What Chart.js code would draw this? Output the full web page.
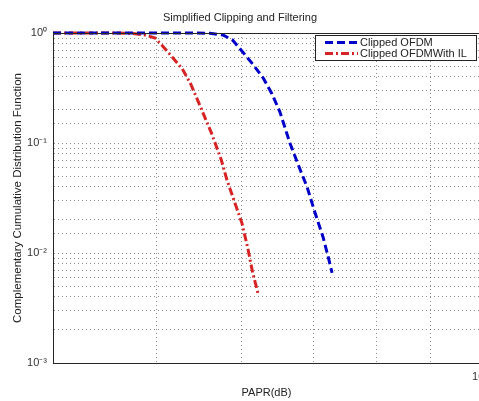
<!DOCTYPE html>
<html><head><meta charset="utf-8">
<script src="https://cdn.jsdelivr.net/npm/chart.js@4/dist/chart.umd.min.js"></script>
<style>
html,body{margin:0;padding:0;overflow:hidden;background:#fff;width:479px;height:401px}
#wrap{width:532px;height:401px;position:relative}
</style>
</head><body><div id="wrap"><canvas id="c" width="532" height="401"></canvas></div>
<script>
// PAPR (dB) and CCDF values
const clippedX = [4, 5.37, 5.60, 5.76, 5.88, 6.01, 6.14, 6.28, 6.40, 6.51, 6.65, 6.80, 6.90, 7.02, 7.14, 7.22, 7.28];
const clippedY = [1, 1, 0.995, 0.959, 0.864, 0.672, 0.522, 0.39, 0.279, 0.191, 0.1, 0.0568, 0.0398, 0.0231, 0.014, 0.0092, 0.0066];
const ilX = [4, 4.49, 4.72, 4.87, 4.98, 5.07, 5.17, 5.28, 5.37, 5.44, 5.52, 5.62, 5.74, 5.81, 5.91, 6.00, 6.08, 6.14, 6.21];
const ilY = [1, 1, 0.995, 0.959, 0.901, 0.746, 0.60, 0.47, 0.351, 0.262, 0.187, 0.123, 0.0701, 0.0461, 0.0285, 0.0187, 0.0107, 0.0066, 0.0043];
const seriesLabels = ['Clipped OFDM', 'Clipped OFDMWith IL'];
const xGridTicks = [4, 5, 6, 7, 8, 9, 10];
const yTickLabels = ['10\u207B\u00B3', '10\u207B\u00B2', '10\u207B\u00B9', '10\u2070']; // 1e-3 .. 1e0
const xTickLabels = ['10\u00B9']; // at 10
const titleText = 'Simplified Clipping and Filtering';
const xTitle = 'PAPR(dB)';
const yTitle = 'Complementary Cumulative Distribution Function';

const toXY = (xs, ys) => xs.map((x, i) => ({x, y: ys[i]}));
const isPow10 = v => { const e = Math.log10(v); return Math.abs(e - Math.round(e)) < 1e-9; };
const FONT = '"Liberation Sans", Arial, sans-serif';

const boxPlugin = {
  id: 'box',
  afterDatasetsDraw(chart) {
    const {ctx, chartArea: a} = chart;
    ctx.save();
    ctx.setLineDash([]);
    ctx.strokeStyle = '#262626'; ctx.lineWidth = 1;
    ctx.strokeRect(Math.round(a.left) + 0.5, Math.round(a.top) + 0.5, Math.round(a.right - a.left), Math.round(a.bottom - a.top));
    const w = 161, h = 25, x = Math.round(a.right) - 165, y = Math.round(a.top) + 2;
    ctx.fillStyle = '#fff'; ctx.fillRect(x, y, w, h);
    ctx.strokeStyle = '#222'; ctx.strokeRect(x + 0.5, y + 0.5, w, h);
    chart.data.datasets.forEach((ds, i) => {
      const ly = y + 7.5 + i * 11;
      ctx.strokeStyle = ds.borderColor; ctx.lineWidth = ds.borderWidth; ctx.setLineDash(ds.borderDash);
      ctx.beginPath(); ctx.moveTo(x + 10, ly); ctx.lineTo(x + 43, ly); ctx.stroke();
      ctx.setLineDash([]);
      ctx.fillStyle = '#222'; ctx.font = '11px ' + FONT; ctx.textBaseline = 'middle'; ctx.textAlign = 'left';
      ctx.fillText(ds.label, x + 45, ly + 0.5);
    });
    ctx.restore();
  }
};

new Chart(document.getElementById('c'), {
  type: 'line',
  data: {
    datasets: [
      { label: seriesLabels[0], data: toXY(clippedX, clippedY), borderColor: 'rgb(0,0,200)', borderWidth: 3,
        borderDash: [8, 4], pointRadius: 0, tension: 0, fill: false, clip: 4 },
      { label: seriesLabels[1], data: toXY(ilX, ilY), borderColor: 'rgb(215,35,35)', borderWidth: 3,
        borderDash: [8, 3, 2, 3], pointRadius: 0, tension: 0, fill: false, clip: 4 }
    ]
  },
  options: {
    responsive: false,
    animation: false,
    layout: { padding: { left: 0, right: 52, top: 0, bottom: 0 } },
    plugins: {
      legend: { display: false },
      tooltip: { enabled: false },
      title: { display: true, text: titleText, color: '#222', font: { family: FONT, size: 11, weight: 'normal' },
               padding: { top: 11.5, bottom: 8.3 } }
    },
    scales: {
      x: {
        type: 'logarithmic', min: 4, max: 10,
        afterBuildTicks: s => { s.ticks = xGridTicks.map(v => ({value: v})); },
        afterFit: s => { s.height = 38; },
        grid: { color: 'rgba(0,0,0,0.45)', lineWidth: 1, drawTicks: false },
        border: { display: true, color: '#262626', width: 1, dash: [1, 3] },
        ticks: { autoSkip: false, maxRotation: 0, padding: 7, color: '#333', font: { family: FONT, size: 11 },
                 callback: v => (Math.abs(v - 10) < 1e-9 ? xTickLabels[0] : '') },
        title: { display: true, text: xTitle, color: '#222', font: { family: FONT, size: 11 }, padding: { top: 0, bottom: 1.5 } }
      },
      y: {
        type: 'logarithmic', min: 0.001, max: 1,
        afterFit: s => { s.width = 53; },
        grid: { color: 'rgba(0,0,0,0.45)', lineWidth: 1, drawTicks: false },
        border: { display: true, color: '#262626', width: 1, dash: [1, 3] },
        ticks: { autoSkip: false, padding: 6, color: '#333', font: { family: FONT, size: 11 },
                 callback: v => isPow10(v) ? yTickLabels[Math.round(Math.log10(v)) + 3] : '' },
        title: { display: true, text: yTitle, color: '#222', font: { family: FONT, size: 11.5 }, padding: { top: 11, bottom: 0 } }
      }
    }
  },
  plugins: [boxPlugin]
});
</script>
</body></html>
